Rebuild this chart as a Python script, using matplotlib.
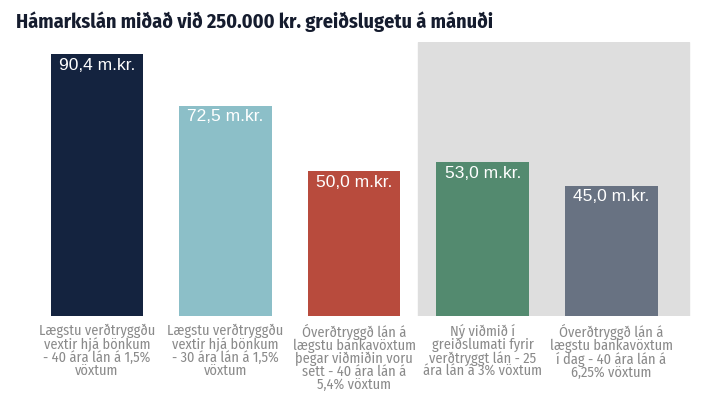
import matplotlib.pyplot as plt

categories = [
    "Lægstu verðtryggðu\nvextir hjá bönkum\n- 40 ára lán á 1,5%\nvöxtum",
    "Lægstu verðtryggðu\nvextir hjá bönkum\n- 30 ára lán á 1,5%\nvöxtum",
    "Óverðtryggð lán á\nlægstu bankavöxtum\nþegar viðmiðin voru\nsett - 40 ára lán á\n5,4% vöxtum",
    "Ný viðmið í\ngreiðslumati fyrir\nverðtryggt lán - 25\nára lán á 3% vöxtum",
    "Óverðtryggð lán á\nlægstu bankavöxtum\ní dag - 40 ára lán á\n6,25% vöxtum",
]
values = [90.4, 72.5, 50.0, 53.0, 45.0]
value_labels = ["90,4 m.kr.", "72,5 m.kr.", "50,0 m.kr.", "53,0 m.kr.", "45,0 m.kr."]
colors = ["#14233f", "#8cbfc8", "#b84b3d", "#538a6f", "#687282"]

cond = ["Fira Sans Condensed", "DejaVu Sans"]

fig = plt.figure(figsize=(7.13, 3.94), dpi=100)
ax = fig.add_axes([0.0547, 0.198, 0.92, 0.695])

x = range(len(values))
ax.axvspan(2.5, 4.6, color="#dedede", zorder=0)
ax.bar(x, values, width=0.72, color=colors, zorder=2)

for i, (v, lab) in enumerate(zip(values, value_labels)):
    ax.text(i, v - 1.2, lab, ha="center", va="top", color="white",
            fontsize=12.5, family="Liberation Sans", zorder=3)
    ax.text(i, -2.6, categories[i], ha="center", va="top", color="#8a8a8a",
            fontsize=10.3, family=cond, linespacing=0.9)

ax.set_xlim(-0.45, 4.65)
ax.set_ylim(0, 94.5)
ax.axis("off")

fig.text(0.022, 0.945, "Hámarkslán miðað við 250.000 kr. greiðslugetu á mánuði",
         fontsize=14.5, fontweight="bold", color="#151c2e", va="center",
         family=cond)

fig.savefig("out.png", dpi=100)
